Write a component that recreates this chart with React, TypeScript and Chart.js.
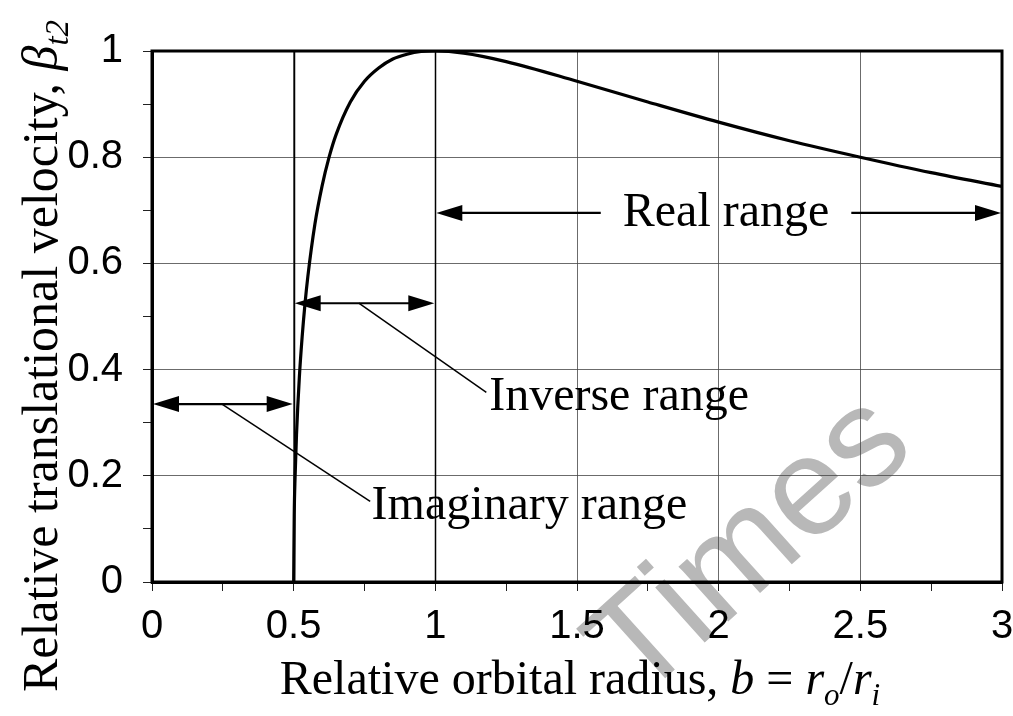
import React, { useEffect, useRef } from 'react';
import { Chart, registerables } from 'chart.js';

Chart.register(...registerables);

// Relative orbital radius b and relative translational velocity beta_t2
const orbitalRadius = [
  0.5, 0.502, 0.505, 0.51, 0.52, 0.53, 0.54, 0.55, 0.575, 0.6, 0.625, 0.65, 0.7, 0.75,
  0.8, 0.85, 0.9, 0.95, 1, 1.1, 1.25, 1.5, 1.75, 2, 2.25, 2.5, 2.75, 3,
];
const translationalVelocity = [
  0, 0.126, 0.198, 0.277, 0.385, 0.462, 0.524, 0.575, 0.674, 0.745, 0.8, 0.843, 0.904, 0.943,
  0.968, 0.985, 0.994, 0.999, 1, 0.996, 0.98, 0.943, 0.904, 0.866, 0.831, 0.8, 0.771, 0.745,
];

// Labelled tick values
const xMajorTicks = [0, 0.5, 1, 1.5, 2, 2.5, 3];
const yMajorTicks = [0, 0.2, 0.4, 0.6, 0.8, 1];

// Ranges of b
const rangeLabels = ['Imaginary range', 'Inverse range', 'Real range'];
const rangeFrom = [0, 0.5, 1];
const rangeTo = [0.5, 1, 3];

// Where each range annotation sits, in data units
const rangeLayout = [
  { arrowY: 0.335, leader: [0.247, 0.335, 0.77, 0.152], label: [0.775, 0.143], inline: false },
  { arrowY: 0.525, leader: [0.73, 0.525, 1.18, 0.357], label: [1.19, 0.348], inline: false },
  { arrowY: 0.695, leader: null, label: [2.026, 0.695], inline: true },
];

const SERIF = '"Liberation Serif", "Times New Roman", serif';
const SANS = '"Liberation Sans", Arial, sans-serif';

type Run = { text: string; italic?: boolean; sub?: boolean };

function drawRuns(ctx: CanvasRenderingContext2D, runs: Run[], size: number, cx: number, baseY: number) {
  const subSize = Math.round(size * 0.65);
  const fontOf = (r: Run) => `${r.italic ? 'italic ' : ''}${r.sub ? subSize : size}px ${SERIF}`;
  let total = 0;
  const widths = runs.map((r) => {
    ctx.font = fontOf(r);
    const w = ctx.measureText(r.text).width;
    total += w;
    return w;
  });
  let x = cx - total / 2;
  ctx.textAlign = 'left';
  ctx.textBaseline = 'alphabetic';
  runs.forEach((r, i) => {
    ctx.font = fontOf(r);
    ctx.fillText(r.text, x, baseY + (r.sub ? size * 0.22 : 0));
    x += widths[i];
  });
}

function arrowHead(ctx: CanvasRenderingContext2D, tipX: number, y: number, dir: number, len: number, half: number) {
  ctx.beginPath();
  ctx.moveTo(tipX, y);
  ctx.lineTo(tipX - dir * len, y - half);
  ctx.lineTo(tipX - dir * len, y + half);
  ctx.closePath();
  ctx.fill();
}

const watermarkPlugin = {
  id: 'watermark',
  beforeDraw(chart: any) {
    const ctx = chart.ctx as CanvasRenderingContext2D;
    ctx.save();
    ctx.translate(752, 548);
    ctx.rotate((-42 * Math.PI) / 180);
    ctx.font = `140px ${SANS}`;
    ctx.fillStyle = 'rgb(184,184,184)';
    ctx.textAlign = 'center';
    ctx.textBaseline = 'middle';
    ctx.fillText('Times', 0, 0);
    ctx.restore();
  },
};

const annotationPlugin = {
  id: 'rangeAnnotations',
  afterDatasetsDraw(chart: any) {
    const ctx = chart.ctx as CanvasRenderingContext2D;
    const xs = chart.scales.x;
    const ys = chart.scales.y;
    const area = chart.chartArea;
    ctx.save();
    ctx.strokeStyle = '#000';
    ctx.fillStyle = '#000';

    // darker boundary lines at b = 0.5 and b = 1
    ctx.lineWidth = 1.5;
    [0.5, 1].forEach((b) => {
      const px = Math.round(xs.getPixelForValue(b)) + 0.5;
      ctx.beginPath();
      ctx.moveTo(px, area.top);
      ctx.lineTo(px, area.bottom);
      ctx.stroke();
    });

    ctx.font = `48px ${SERIF}`;
    ctx.textBaseline = 'middle';
    rangeLabels.forEach((label, i) => {
      const lay = rangeLayout[i];
      const x0 = xs.getPixelForValue(rangeFrom[i]);
      const x1 = xs.getPixelForValue(rangeTo[i]);
      const y = ys.getPixelForValue(lay.arrowY);
      const len = 26;
      const half = 8;
      ctx.lineWidth = 2.2;
      if (lay.inline) {
        const cx = xs.getPixelForValue(lay.label[0]);
        const w = ctx.measureText(label).width;
        ctx.textAlign = 'center';
        ctx.fillText(label, cx, ys.getPixelForValue(lay.label[1]));
        const gap = 22;
        ctx.beginPath();
        ctx.moveTo(x0 + len - 2, y);
        ctx.lineTo(cx - w / 2 - gap, y);
        ctx.moveTo(cx + w / 2 + gap, y);
        ctx.lineTo(x1 - len + 2, y);
        ctx.stroke();
      } else {
        ctx.beginPath();
        ctx.moveTo(x0 + len - 2, y);
        ctx.lineTo(x1 - len + 2, y);
        ctx.stroke();
        if (lay.leader) {
          ctx.lineWidth = 1.5;
          ctx.beginPath();
          ctx.moveTo(xs.getPixelForValue(lay.leader[0]), ys.getPixelForValue(lay.leader[1]));
          ctx.lineTo(xs.getPixelForValue(lay.leader[2]), ys.getPixelForValue(lay.leader[3]));
          ctx.stroke();
        }
        ctx.textAlign = 'left';
        ctx.fillText(label, xs.getPixelForValue(lay.label[0]), ys.getPixelForValue(lay.label[1]));
      }
      arrowHead(ctx, x0 + 1, y, -1, len, half);
      arrowHead(ctx, x1 - 1, y, 1, len, half);
    });
    ctx.restore();
  },
  afterDraw(chart: any) {
    const ctx = chart.ctx as CanvasRenderingContext2D;
    const area = chart.chartArea;
    ctx.save();
    // plot frame
    ctx.strokeStyle = '#000';
    ctx.lineWidth = 3;
    ctx.strokeRect(area.left, area.top, area.right - area.left, area.bottom - area.top);

    ctx.fillStyle = '#000';
    // x-axis title
    drawRuns(
      ctx,
      [
        { text: 'Relative orbital radius, ' },
        { text: 'b', italic: true },
        { text: ' = ' },
        { text: 'r', italic: true },
        { text: 'o', italic: true, sub: true },
        { text: '/' },
        { text: 'r', italic: true },
        { text: 'i', italic: true, sub: true },
      ],
      48,
      (area.left + area.right) / 2 + 3,
      694
    );

    // y-axis title
    ctx.save();
    ctx.translate(57, 356);
    ctx.rotate(-Math.PI / 2);
    drawRuns(
      ctx,
      [
        { text: 'Relative translational velocity, ' },
        { text: 'β', italic: true },
        { text: 't2', italic: true, sub: true },
      ],
      50,
      0,
      0
    );
    ctx.restore();
    ctx.restore();
  },
};

const isMajor = (v: number, list: number[]) => list.some((m) => Math.abs(m - v) < 1e-6);

export default function App() {
  const canvasRef = useRef<HTMLCanvasElement | null>(null);

  useEffect(() => {
    if (!canvasRef.current) return;
    const chart = new Chart(canvasRef.current, {
      type: 'line',
      data: {
        datasets: [
          {
            data: orbitalRadius.map((b, i) => ({ x: b, y: translationalVelocity[i] })),
            borderColor: '#000',
            borderWidth: 3.2,
            pointRadius: 0,
            fill: false,
            cubicInterpolationMode: 'monotone',
          },
        ],
      },
      options: {
        animation: false,
        responsive: false,
        layout: { padding: { top: 51, right: 11, left: 0, bottom: 0 } },
        plugins: { legend: { display: false }, tooltip: { enabled: false } },
        scales: {
          x: {
            type: 'linear',
            min: 0,
            max: 3,
            afterFit: (s: any) => {
              s.height = 134;
              s.paddingLeft = 0;
              s.paddingRight = 0;
            },
            ticks: {
              stepSize: 0.25,
              autoSkip: false,
              maxRotation: 0,
              padding: 12,
              color: '#000',
              font: { family: SANS, size: 40 },
              callback: (v: any) => (isMajor(Number(v), xMajorTicks) ? String(Number(v)) : ''),
            },
            grid: {
              color: (c: any) => {
                const v = c.tick ? c.tick.value : 0;
                return isMajor(v, xMajorTicks) ? 'rgba(70,70,70,0.8)' : 'rgba(0,0,0,0)';
              },
              lineWidth: 1,
              tickColor: '#222',
              tickLength: 9,
              tickWidth: 1,
            },
            border: { color: '#000', width: 3 },
          },
          y: {
            type: 'linear',
            min: 0,
            max: 1,
            afterFit: (s: any) => {
              s.width = 152;
              s.paddingTop = 0;
              s.paddingBottom = 0;
            },
            ticks: {
              stepSize: 0.1,
              autoSkip: false,
              padding: 20,
              color: '#000',
              font: { family: SANS, size: 40 },
              callback: (v: any) => {
                const n = Math.round(Number(v) * 10) / 10;
                return isMajor(n, yMajorTicks) ? String(n) : '';
              },
            },
            grid: {
              color: (c: any) => {
                const v = c.tick ? Math.round(c.tick.value * 10) / 10 : 0;
                return isMajor(v, yMajorTicks) ? 'rgba(70,70,70,0.8)' : 'rgba(0,0,0,0)';
              },
              lineWidth: 1,
              tickColor: '#222',
              tickLength: 9,
              tickWidth: 1,
            },
            border: { color: '#000', width: 3 },
          },
        },
      },
      plugins: [watermarkPlugin, annotationPlugin],
    } as any);
    return () => chart.destroy();
  }, []);

  return (
    <div style={{ position: 'absolute', left: 0, top: 0, width: 1013, height: 716, background: '#fff' }}>
      <canvas ref={canvasRef} width={1013} height={716} style={{ display: 'block' }} />
    </div>
  );
}
